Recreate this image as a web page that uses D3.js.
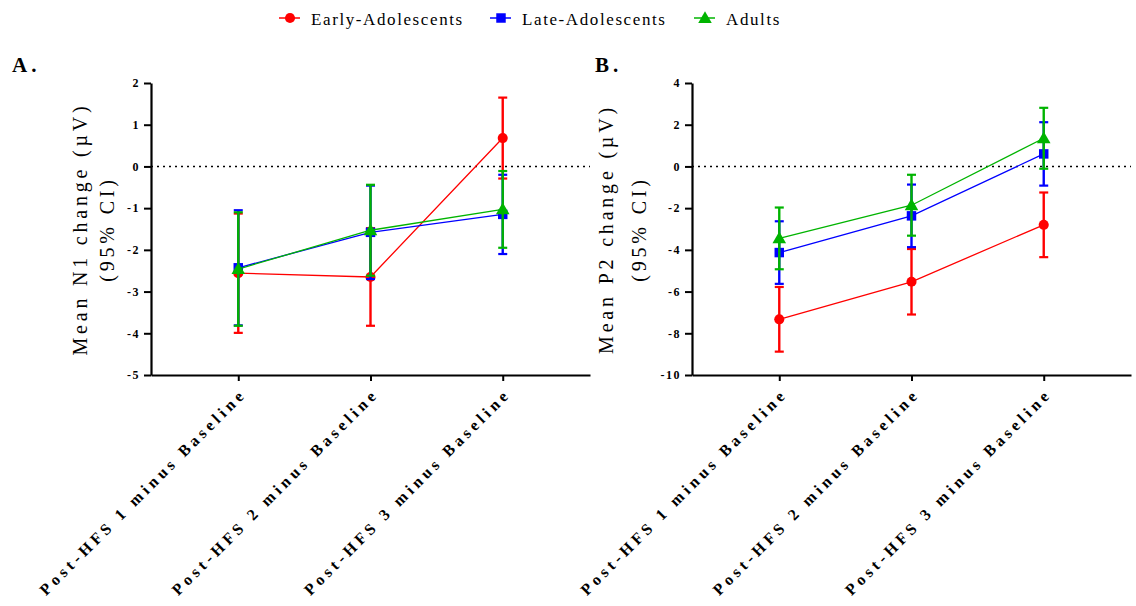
<!DOCTYPE html>
<html>
<head>
<meta charset="utf-8">
<script src="https://cdn.jsdelivr.net/npm/d3@7"></script>
<style>
  body { margin: 0; background: #fff; }
</style>
</head>
<body>
<div id="vis"></div>
<script>
// groups and time points
const groups = ["Early-Adolescents", "Late-Adolescents", "Adults"];
const timepoints = ["Post-HFS 1 minus Baseline", "Post-HFS 2 minus Baseline", "Post-HFS 3 minus Baseline"];

// panel A: N1 change, means and 95% CI half widths (one row per group)
const n1Means = [[-2.56, -2.65, 0.68], [-2.43, -1.58, -1.15], [-2.46, -1.53, -1.03]];
const n1Ci = [[1.43, 1.17, 0.97], [1.38, 1.12, 0.95], [1.36, 1.09, 0.92]];
const n1Ticks = [2, 1, 0, -1, -2, -3, -4, -5];

// panel B: P2 change
const p2Means = [[-7.33, -5.53, -2.80], [-4.13, -2.37, 0.60], [-3.45, -1.86, 1.35]];
const p2Ci = [[1.55, 1.57, 1.55], [1.50, 1.50, 1.52], [1.48, 1.46, 1.46]];
const p2Ticks = [4, 2, 0, -2, -4, -6, -8, -10];

const colours = ["#ff0000", "#0000ff", "#00b400"];
const shapes = [d3.symbolCircle, d3.symbolSquare, d3.symbolTriangle];
const shapeSize = [80, 90, 80];

const serif = "'Liberation Serif', Tinos, 'Times New Roman', 'DejaVu Serif', serif";

const width = 1136;
const height = 606;

const svg = d3.select("#vis").append("svg")
  .attr("width", width)
  .attr("height", height)
  .style("font-family", serif);

// legend along the top
const legendX = [279, 490, 694];
groups.forEach((g, i) => {
  const lg = svg.append("g").attr("transform", `translate(${legendX[i]},18)`);
  lg.append("line").attr("x1", 0).attr("x2", 21).attr("y1", 0).attr("y2", 0)
    .attr("stroke", colours[i]).attr("stroke-width", 1.5);
  lg.append("path").attr("d", d3.symbol(shapes[i], shapeSize[i])())
    .attr("transform", `translate(11,${i === 2 ? 1 : 0})`)
    .attr("fill", colours[i]);
  lg.append("text").attr("x", 32).attr("y", 7)
    .style("font-family", serif)
    .attr("font-size", 17).attr("letter-spacing", 1.6)
    .text(g);
});

function drawPanel(cfg) {
  const { means, ci, ticks, left, letter, letterX, labelLines, labelOffsets } = cfg;
  const top = 83, bottom = 375;

  const x = d3.scaleLinear().domain([0.34, 3.66]).range([left, left + 439]);
  const y = d3.scaleLinear().domain(d3.extent(ticks)).range([bottom, top]);

  const g = svg.append("g");

  // panel letter
  g.append("text").attr("x", letterX).attr("y", 72)
    .style("font-family", serif)
    .attr("font-size", 21).attr("font-weight", "bold").attr("letter-spacing", 4)
    .text(letter);

  // zero reference line
  g.append("line")
    .attr("x1", left).attr("x2", x.range()[1])
    .attr("y1", y(0)).attr("y2", y(0))
    .attr("stroke", "#000").attr("stroke-width", 1.6)
    .attr("stroke-dasharray", "2,4");

  // y axis
  const yAxis = g.append("g").attr("transform", `translate(${left},0)`)
    .call(d3.axisLeft(y).tickValues(ticks).tickSize(7).tickSizeOuter(0).tickPadding(4)
      .tickFormat((d) => String(d)));
  yAxis.select(".domain").attr("stroke-width", 2.2);
  yAxis.selectAll(".tick line").attr("stroke-width", 2);
  yAxis.selectAll("text")
    .style("font-family", serif)
    .attr("font-size", 12).attr("font-weight", "bold").attr("letter-spacing", 1.5)
    .attr("fill", "#000");

  // x axis
  const xAxis = g.append("g").attr("transform", `translate(0,${bottom})`)
    .call(d3.axisBottom(x).tickValues([1, 2, 3]).tickSize(6).tickSizeOuter(0).tickFormat(""));
  xAxis.select(".domain").attr("stroke-width", 2.2);
  xAxis.selectAll(".tick line").attr("stroke-width", 2);

  // rotated category labels
  timepoints.forEach((t, i) => {
    g.append("text")
      .attr("transform", `translate(${x(i + 1) + 9},${bottom + 20}) rotate(-45)`)
      .attr("text-anchor", "end")
      .style("font-family", serif)
      .attr("font-size", 16).attr("font-weight", "bold").attr("letter-spacing", 4)
      .text(t);
  });

  // y axis title, two lines
  labelLines.forEach((line, i) => {
    g.append("text")
      .attr("transform", `translate(${left + labelOffsets[i]},${(top + bottom) / 2}) rotate(-90)`)
      .attr("text-anchor", "middle").attr("dominant-baseline", "central")
      .style("font-family", serif)
      .attr("font-size", 20).attr("letter-spacing", 3.8)
      .text(line);
  });

  // series: connecting lines, error bars, markers
  means.forEach((row, gi) => {
    const pts = row.map((v, k) => ({ k: k + 1, v, e: ci[gi][k] }));
    const sg = g.append("g");

    sg.append("path").datum(pts)
      .attr("fill", "none").attr("stroke", colours[gi]).attr("stroke-width", 1.3)
      .attr("d", d3.line().x((d) => x(d.k)).y((d) => y(d.v)));

    const bars = sg.selectAll(".err").data(pts).enter().append("g");
    bars.append("line")
      .attr("x1", (d) => x(d.k)).attr("x2", (d) => x(d.k))
      .attr("y1", (d) => y(d.v + d.e)).attr("y2", (d) => y(d.v - d.e))
      .attr("stroke", colours[gi]).attr("stroke-width", 2.4);
    [1, -1].forEach((s) => {
      bars.append("line")
        .attr("x1", (d) => x(d.k) - 4.5).attr("x2", (d) => x(d.k) + 4.5)
        .attr("y1", (d) => y(d.v + s * d.e)).attr("y2", (d) => y(d.v + s * d.e))
        .attr("stroke", colours[gi]).attr("stroke-width", 2.2);
    });

    sg.selectAll(".mk").data(pts).enter().append("path")
      .attr("d", d3.symbol(shapes[gi], shapeSize[gi])())
      .attr("transform", (d) => `translate(${x(d.k)},${y(d.v) + (gi === 2 ? 1 : 0)})`)
      .attr("fill", colours[gi]);
  });
}

drawPanel({
  means: n1Means, ci: n1Ci, ticks: n1Ticks, left: 151, letter: "A.", letterX: 12,
  labelLines: ["Mean N1 change (\u00b5V)", "(95% CI)"], labelOffsets: [-71, -44]
});

drawPanel({
  means: p2Means, ci: p2Ci, ticks: p2Ticks, left: 692, letter: "B.", letterX: 595,
  labelLines: ["Mean P2 change (\u00b5V)", "(95% CI)"], labelOffsets: [-86, -53]
});
</script>
</body>
</html>
